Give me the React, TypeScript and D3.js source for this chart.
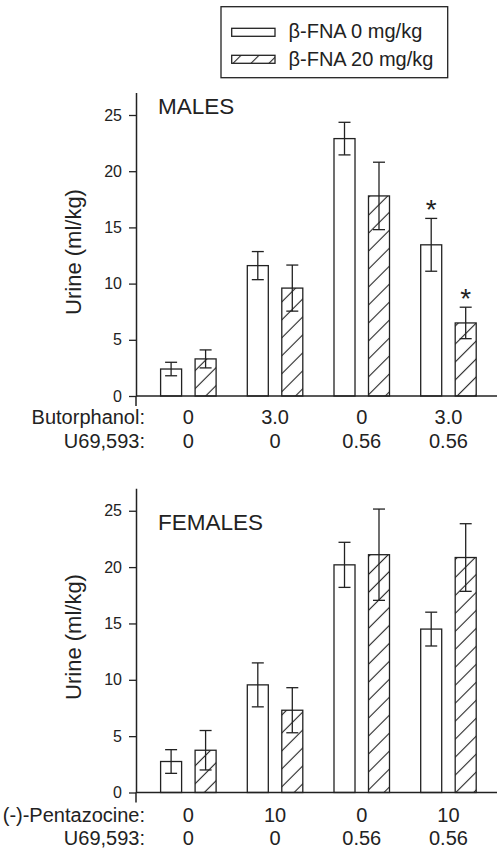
import React, { useRef, useEffect } from "react";
import * as d3 from "d3";

const seriesKeys = ["0", "20"];
const seriesLabels = ["β-FNA 0 mg/kg", "β-FNA 20 mg/kg"];
const yTicks = [0, 5, 10, 15, 20, 25];

const maleDrugName = "Butorphanol:";
const maleDrug = ["0", "3.0", "0", "3.0"];
const maleU69 = ["0", "0", "0.56", "0.56"];
const maleMean0 = [2.4, 11.6, 22.9, 13.45];
const maleErr0 = [0.6, 1.25, 1.45, 2.35];
const maleMean20 = [3.3, 9.6, 17.8, 6.5];
const maleErr20 = [0.8, 2.05, 3.0, 1.4];
const maleSig0 = [false, false, false, true];
const maleSig20 = [false, false, false, true];

const femaleDrugName = "(-)-Pentazocine:";
const femaleDrug = ["0", "10", "0", "10"];
const femaleU69 = ["0", "0", "0.56", "0.56"];
const femaleMean0 = [2.75, 9.55, 20.2, 14.5];
const femaleErr0 = [1.05, 1.95, 2.0, 1.5];
const femaleMean20 = [3.75, 7.3, 21.1, 20.85];
const femaleErr20 = [1.75, 2.0, 4.05, 3.0];
const femaleSig0 = [false, false, false, false];
const femaleSig20 = [false, false, false, false];

const FONT = "'Liberation Sans', Arial, Helvetica, sans-serif";
const INK = "#222";
const W = 497;
const H = 849;
const AXIS_X = 136;

function YAxis({ y }: { y: d3.ScaleLinear<number, number> }) {
  const ref = useRef<SVGGElement>(null);
  useEffect(() => {
    if (!ref.current) return;
    const g = d3.select(ref.current);
    g.call(
      d3.axisLeft(y).tickValues(yTicks).tickSize(7).tickSizeOuter(0).tickPadding(7).tickFormat(d3.format("d"))
    );
    g.attr("font-size", 16).attr("font-family", FONT);
    g.selectAll("path.domain").attr("stroke", INK).attr("stroke-width", 1.5);
    g.selectAll(".tick line").attr("stroke", INK).attr("stroke-width", 1.3);
    g.selectAll(".tick text").attr("fill", INK);
  }, [y]);
  return <g ref={ref} transform={`translate(${AXIS_X},0)`} />;
}

type PanelProps = {
  base: number;
  ppu: number;
  title: string;
  titleY: number;
  ylabelY: number;
  drugName: string;
  drug: string[];
  u69: string[];
  means: number[][];
  errs: number[][];
  sigs: boolean[][];
  row1: number;
  row2: number;
};

function Panel(p: PanelProps) {
  const y = d3.scaleLinear().domain([0, 27]).range([p.base, p.base - 27 * p.ppu]);
  const x0 = d3.scaleBand<number>().domain([0, 1, 2, 3]).range([145, 491.8]).padding(0);
  const x1 = d3.scaleBand<string>().domain(seriesKeys).range([15.6, 71.1]).paddingInner(0.391).paddingOuter(0);
  const bw = x1.bandwidth();
  return (
    <g>
      <text x={158} y={p.titleY} fontSize={22.5} fontFamily={FONT} fill={INK}>
        {p.title}
      </text>
      <text
        transform={`translate(73,${p.ylabelY}) rotate(-90)`}
        textAnchor="middle"
        dominantBaseline="central"
        fontSize={22}
        fontFamily={FONT}
        fill={INK}
      >
        Urine (ml/kg)
      </text>
      {[0, 1, 2, 3].map((i) =>
        seriesKeys.map((k, s) => {
          const m = p.means[s][i];
          const e = p.errs[s][i];
          const bx = (x0(i) as number) + (x1(k) as number);
          const cx = bx + bw / 2;
          return (
            <g key={`${i}-${k}`}>
              <rect
                x={bx}
                y={y(m)}
                width={bw}
                height={y(0) - y(m)}
                fill={s === 0 ? "#fff" : "url(#hatch)"}
                stroke={INK}
                strokeWidth={1.3}
              />
              <line x1={cx} x2={cx} y1={y(m - e)} y2={y(m + e)} stroke={INK} strokeWidth={1.3} />
              <line x1={cx - 6} x2={cx + 6} y1={y(m + e)} y2={y(m + e)} stroke={INK} strokeWidth={1.3} />
              <line x1={cx - 6} x2={cx + 6} y1={y(m - e)} y2={y(m - e)} stroke={INK} strokeWidth={1.3} />
              {p.sigs[s][i] && (
                <text x={cx} y={y(m + e) + 1} textAnchor="middle" fontSize={28} fontFamily={FONT} fill={INK}>
                  *
                </text>
              )}
            </g>
          );
        })
      )}
      <line x1={AXIS_X} x2={W} y1={y(0)} y2={y(0)} stroke={INK} strokeWidth={1.5} />
      <line x1={AXIS_X} x2={AXIS_X} y1={y(0)} y2={y(0) + 10} stroke={INK} strokeWidth={1.5} />
      <YAxis y={y} />
      <text x={145} y={p.base + p.row1} textAnchor="end" fontSize={20} fontFamily={FONT} fill={INK}>
        {p.drugName}
      </text>
      <text x={145} y={p.base + p.row2} textAnchor="end" fontSize={20} fontFamily={FONT} fill={INK}>
        U69,593:
      </text>
      {[0, 1, 2, 3].map((i) => {
        const c = (x0(i) as number) + x0.bandwidth() / 2;
        return (
          <g key={`lab-${i}`}>
            <text x={c} y={p.base + p.row1} textAnchor="middle" fontSize={20} fontFamily={FONT} fill={INK}>
              {p.drug[i]}
            </text>
            <text x={c} y={p.base + p.row2} textAnchor="middle" fontSize={20} fontFamily={FONT} fill={INK}>
              {p.u69[i]}
            </text>
          </g>
        );
      })}
    </g>
  );
}

export default function App() {
  return (
    <svg
      width={W}
      height={H}
      viewBox={`0 0 ${W} ${H}`}
      style={{ position: "absolute", left: 0, top: 0, background: "#fff" }}
    >
      <defs>
        <pattern
          id="hatch"
          patternUnits="userSpaceOnUse"
          width={12.7}
          height={12.7}
          patternTransform="rotate(45)"
        >
          <rect width={12.7} height={12.7} fill="#fff" />
          <line x1={6.35} y1={-1} x2={6.35} y2={13.7} stroke={INK} strokeWidth={1.1} />
        </pattern>
      </defs>
      <rect x={0} y={0} width={W} height={H} fill="#fff" />
      {/* legend */}
      <rect x={221} y={6.7} width={226.7} height={71} fill="#fff" stroke={INK} strokeWidth={1.3} />
      {seriesLabels.map((lab, s) => (
        <g key={lab}>
          <rect
            x={231.7}
            y={28.3 + s * 27}
            width={43.3}
            height={8}
            fill={s === 0 ? "#fff" : "url(#hatch)"}
            stroke={INK}
            strokeWidth={1.3}
          />
          <text x={288.5} y={37.5 + s * 28} fontSize={20} fontFamily={FONT} fill={INK}>
            {lab}
          </text>
        </g>
      ))}
      <Panel
        base={396}
        ppu={11.24}
        title="MALES"
        titleY={114}
        ylabelY={252}
        drugName={maleDrugName}
        drug={maleDrug}
        u69={maleU69}
        means={[maleMean0, maleMean20]}
        errs={[maleErr0, maleErr20]}
        sigs={[maleSig0, maleSig20]}
        row1={28}
        row2={52}
      />
      <Panel
        base={792.5}
        ppu={11.27}
        title="FEMALES"
        titleY={530}
        ylabelY={637}
        drugName={femaleDrugName}
        drug={femaleDrug}
        u69={femaleU69}
        means={[femaleMean0, femaleMean20]}
        errs={[femaleErr0, femaleErr20]}
        sigs={[femaleSig0, femaleSig20]}
        row1={29}
        row2={52.5}
      />
    </svg>
  );
}
